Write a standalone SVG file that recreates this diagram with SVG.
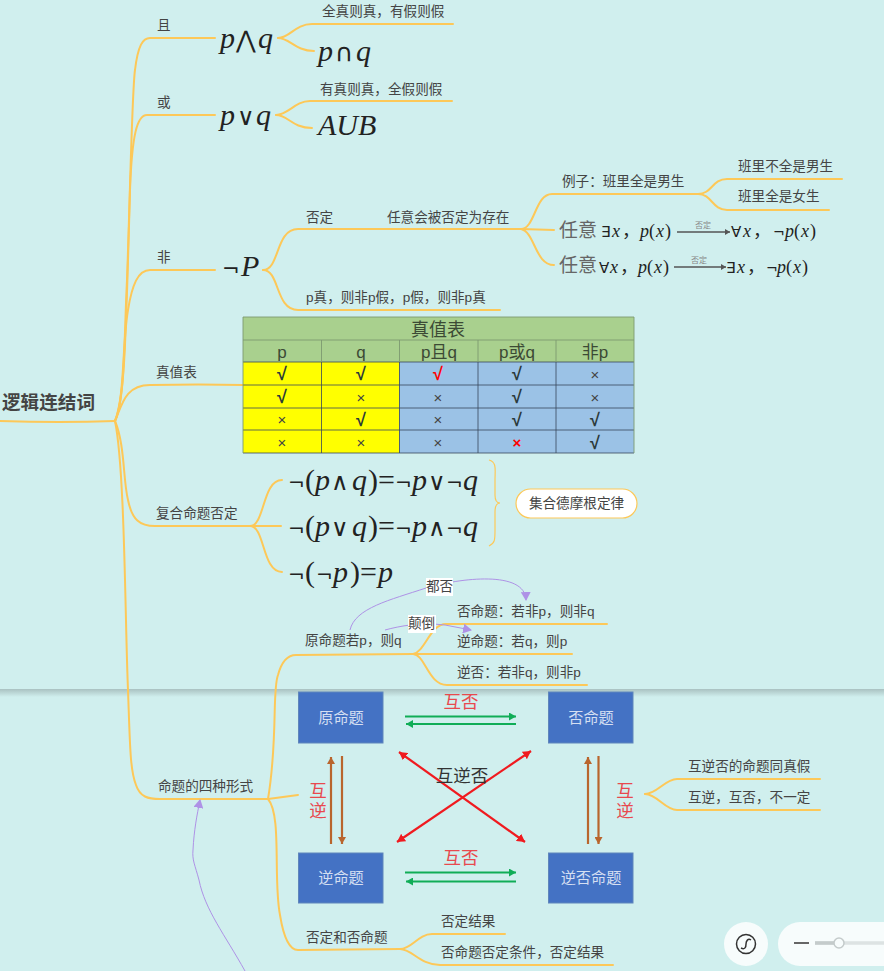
<svg xmlns="http://www.w3.org/2000/svg" width="884" height="971" viewBox="0 0 884 971">
<style>
text{font-family:"Liberation Sans","Noto Sans CJK SC",sans-serif;fill:#444}
.t{font-size:13.600px}
.r{font-weight:bold;font-size:18.600px}
.m{font-family:"Liberation Serif","DejaVu Serif","Noto Sans CJK SC",serif;fill:#222;font-style:italic}
.u{font-style:normal}
.o{font-style:normal;font-family:"DejaVu Sans",sans-serif}
.b{fill:none;stroke:#fdc858;stroke-width:2;stroke-linecap:round}
.g{fill:none;stroke:#fdc858;stroke-width:1.2}
.p{fill:none;stroke:#ae92e6;stroke-width:1}
.box{fill:#4472c4;stroke:#5f86bb;stroke-width:1}
.bt{font-size:15.200px;fill:#d5dff2;text-anchor:middle}
.red{font-size:17.500px;fill:#e8494e;text-anchor:middle}
.h{font-size:17px;text-anchor:middle;fill:#3c4a35}
.ck{font-size:18px;font-weight:bold;text-anchor:middle;fill:#2c3a3a}
.x{font-size:15px;text-anchor:middle;fill:#444}
.gr{stroke:#10ad57;stroke-width:2.2;fill:none}
.br{stroke:#b9652d;stroke-width:2.2;fill:none}
.rd{stroke:#f01a1f;stroke-width:2.2;fill:none}
.cell{stroke:#37465a;stroke-width:.8}
</style>
<defs>
<marker id="ag" markerUnits="userSpaceOnUse" markerWidth="8" markerHeight="8" refX="7" refY="4" orient="auto-start-reverse"><path d="M0 0L7 4L0 8Z" fill="#10ad57"/></marker>
<marker id="ab" markerUnits="userSpaceOnUse" markerWidth="8" markerHeight="8" refX="7" refY="4" orient="auto-start-reverse"><path d="M0 0L7 4L0 8Z" fill="#b9652d"/></marker>
<marker id="ar" markerUnits="userSpaceOnUse" markerWidth="9" markerHeight="9" refX="8" refY="4.500" orient="auto-start-reverse"><path d="M0 0L8 4.500L0 9Z" fill="#f01a1f"/></marker>
<marker id="ap" markerUnits="userSpaceOnUse" markerWidth="10" markerHeight="10" refX="8" refY="5" orient="auto"><path d="M0 0L9 5L0 10Z" fill="#ae92e6"/></marker>
<marker id="ak" markerUnits="userSpaceOnUse" markerWidth="6" markerHeight="6" refX="5" refY="3" orient="auto"><path d="M0 0L5 3L0 6Z" fill="#555"/></marker>
<linearGradient id="sh" x1="0" y1="0" x2="0" y2="1"><stop offset="0" stop-color="#8a9c9c" stop-opacity=".55"/><stop offset="1" stop-color="#8a9c9c" stop-opacity="0"/></linearGradient>
</defs>
<rect width="884" height="971" fill="#d0efee"/>
<rect x="0" y="689" width="884" height="8" fill="url(#sh)"/>
<g id="connectors">
<path class="b" d="M0 421Q60 423 115 421"/>
<path class="b" d="M115 421C125 400 124 340 127 280C130 200 132 90 135 70C138 45 143 38 150 38L215 38"/>
<path class="b" d="M115 421C125 400 126 330 130 190C132 135 137 115 147 115L215 115"/>
<path class="b" d="M115 421C125 395 122 345 128 310C132 285 138 270 150 270L215 270"/>
<path class="b" d="M115 421C122 405 125 385 150 385Q200 384 243 385"/>
<path class="b" d="M115 421C125 445 123 480 128 500C132 520 140 526 155 526L250 526"/>
<path class="b" d="M115 421C125 470 125 620 128 690C130 745 130 770 136 785C140 797 148 799 160 799L268 799"/>
<path class="b" d="M278 38C290 38 295 24 312 24L453 24"/>
<path class="b" d="M278 38C290 38 295 51 314 51"/>
<path class="b" d="M276 115C288 115 295 101 310 101L452 101"/>
<path class="b" d="M276 115C288 115 292 128 312 128"/>
<path class="b" d="M263 270C280 270 275 229 298 229L521 229"/>
<path class="b" d="M263 270C280 270 275 310 298 310L500 310"/>
<path class="b" d="M521 229C535 229 535 194 552 194L698 194"/>
<path class="b" d="M521 229L554 230"/>
<path class="b" d="M521 229C535 232 535 265 554 265"/>
<path class="b" d="M698 194C712 194 712 179 727 179L842 179"/>
<path class="b" d="M698 194C712 194 712 210 727 210L829 210"/>
<path class="b" d="M250 526C265 526 262 480 282 480"/>
<path class="b" d="M250 526L281 526"/>
<path class="b" d="M250 526C265 526 262 572 282 572"/>
<path class="g" d="M489 460C497 462 495 470 495 480L495 495C495 500 497 503 500 503C497 503 495 506 495 512L495 530C495 540 495 543 489 546"/>
<path class="b" d="M268 799C278 740 272 690 278 675C282 660 288 655 296 655L413 654"/>
<path class="b" d="M413 654C425 652 430 624 446 624L607 624"/>
<path class="b" d="M413 654L572 654"/>
<path class="b" d="M413 654C425 654 428 685 447 685L587 685"/>
<path class="b" d="M268 799L298 795"/>
<path class="b" d="M268 799C282 815 273 880 280 915C284 940 290 950 298 950L400 949"/>
<path class="b" d="M400 949C412 949 418 934 432 934L505 934"/>
<path class="b" d="M400 949C412 949 420 965 440 965L613 965"/>
<path class="b" d="M645 794C657 794 665 779 677 779L820 779"/>
<path class="b" d="M645 794C657 794 665 810 677 810L820 810"/>
<path class="p" marker-end="url(#ap)" d="M350 630C355 608 390 600 426 588C460 578 525 570 526 600"/>
<path class="p" marker-end="url(#ap)" d="M385 630C400 626 420 622 445 625L471 630"/>
<path class="p" marker-end="url(#ap)" d="M245 971C225 935 205 910 199 880C195 865 192 860 193 850C194 830 197 815 200 800"/>
</g>
<g id="root"><text class="r" x="2" y="409">逻辑连结词</text></g>
<g id="and"><text class="t" x="157" y="30">且</text>
<text class="m" font-size="30" y="48"><tspan x="220">p</tspan><tspan x="236" class="o" font-size="24">⋀</tspan><tspan x="258">q</tspan></text>
<text class="t" x="322" y="16">全真则真，有假则假</text>
<text class="m" font-size="30" y="61"><tspan x="318">p</tspan><tspan x="335" class="o" font-size="25">∩</tspan><tspan x="356">q</tspan></text></g>
<g id="or"><text class="t" x="157" y="107">或</text>
<text class="m" font-size="30" y="125"><tspan x="220">p</tspan><tspan x="237" class="o" font-size="24">∨</tspan><tspan x="256">q</tspan></text>
<text class="t" x="320" y="94">有真则真，全假则假</text>
<text class="m" font-size="30" x="318" y="135">AUB</text></g>
<g id="not"><text class="t" x="157" y="262">非</text>
<text class="m" font-size="28" y="276"><tspan x="222" class="o" font-size="21">¬</tspan><tspan x="241" font-size="30">P</tspan></text>
<text class="t" x="306" y="222">否定</text><text class="t" x="387" y="222">任意会被否定为存在</text>
<text class="t" x="306" y="302">p真，则非p假，p假，则非p真</text>
<text class="t" x="562" y="186">例子：班里全是男生</text>
<text class="t" x="738" y="171">班里不全是男生</text>
<text class="t" x="738" y="201">班里全是女生</text>
<text x="559" y="237" font-size="19" style="fill:#666">任意</text>
<text class="m" font-size="18" y="237"><tspan x="601" class="o" font-size="15">∃</tspan><tspan x="612">x</tspan><tspan x="622" class="u">，</tspan><tspan x="640">p</tspan><tspan x="649" class="u">(</tspan><tspan x="656">x</tspan><tspan x="665" class="u">)</tspan><tspan x="731" class="o" font-size="15">∀</tspan><tspan x="743">x</tspan><tspan x="753" class="u">，</tspan><tspan x="773" class="o" font-size="14">¬</tspan><tspan x="785">p</tspan><tspan x="794" class="u">(</tspan><tspan x="801">x</tspan><tspan x="810" class="u">)</tspan></text>
<path d="M677 232L730 232" stroke="#555" stroke-width="1.300" marker-end="url(#ak)"/>
<text x="703" y="228" font-size="8" text-anchor="middle" style="fill:#888">否定</text>
<text x="559" y="272" font-size="19" style="fill:#666">任意</text>
<text class="m" font-size="18" y="273"><tspan x="599" class="o" font-size="15">∀</tspan><tspan x="610">x</tspan><tspan x="620" class="u">，</tspan><tspan x="638">p</tspan><tspan x="647" class="u">(</tspan><tspan x="654">x</tspan><tspan x="663" class="u">)</tspan><tspan x="726" class="o" font-size="15">∃</tspan><tspan x="737">x</tspan><tspan x="747" class="u">，</tspan><tspan x="766" class="o" font-size="14">¬</tspan><tspan x="777">p</tspan><tspan x="786" class="u">(</tspan><tspan x="793">x</tspan><tspan x="802" class="u">)</tspan></text>
<path d="M674 267L726 267" stroke="#555" stroke-width="1.300" marker-end="url(#ak)"/>
<text x="699" y="263" font-size="8" text-anchor="middle" style="fill:#888">否定</text></g>
<g id="truth-table"><text class="t" x="156" y="377">真值表</text>
<rect x="243" y="317" width="391" height="45" fill="#a9d08e"/>
<rect x="243" y="362" width="156" height="91" fill="#ffff00"/>
<rect x="399" y="362" width="235" height="91" fill="#9bc2e6"/>
<path class="cell" fill="none" d="M243 362H634M243 385H634M243 408H634M243 430H634M243 453H634M321.500 362V453M399.500 362V453M478 362V453M556 362V453"/>
<path fill="none" stroke="#7d9a70" stroke-width=".9" d="M243 340H634M321.500 340V362M399.500 340V362M478 340V362M556 340V362M243 317H634M243 317V453M634 317V453"/>
<text class="h" x="438" y="336" style="font-size:18px">真值表</text>
<text class="h" x="282" y="358">p</text><text class="h" x="361" y="358">q</text><text class="h" x="439" y="358">p且q</text><text class="h" x="517" y="358">p或q</text><text class="h" x="595" y="358">非p</text>
<text class="ck" x="282" y="380">√</text><text class="ck" x="361" y="380">√</text><text class="ck" x="438" y="380" style="fill:#f00">√</text><text class="ck" x="517" y="380">√</text><text class="x" x="595" y="380">×</text>
<text class="ck" x="282" y="403">√</text><text class="x" x="361" y="403">×</text><text class="x" x="438" y="403">×</text><text class="ck" x="517" y="403">√</text><text class="x" x="595" y="403">×</text>
<text class="x" x="282" y="425">×</text><text class="ck" x="361" y="426">√</text><text class="x" x="438" y="425">×</text><text class="ck" x="517" y="426">√</text><text class="ck" x="595" y="426">√</text>
<text class="x" x="282" y="448">×</text><text class="x" x="361" y="448">×</text><text class="x" x="438" y="448">×</text><text class="x" x="517" y="448" style="fill:#f00;font-weight:bold">×</text><text class="ck" x="595" y="449">√</text></g>
<g id="compound"><text class="t" x="156" y="518">复合命题否定</text>
<text class="m" font-size="30" y="490"><tspan x="288" class="o" font-size="20">¬</tspan><tspan x="305" class="u">(</tspan><tspan x="315">p</tspan><tspan x="331" class="o" font-size="24">∧</tspan><tspan x="352">q</tspan><tspan x="368" class="u">)</tspan><tspan x="378" class="u">=</tspan><tspan x="395" class="o" font-size="20">¬</tspan><tspan x="412">p</tspan><tspan x="428" class="o" font-size="24">∨</tspan><tspan x="446" class="o" font-size="20">¬</tspan><tspan x="463">q</tspan></text>
<text class="m" font-size="30" y="536"><tspan x="288" class="o" font-size="20">¬</tspan><tspan x="305" class="u">(</tspan><tspan x="315">p</tspan><tspan x="331" class="o" font-size="24">∨</tspan><tspan x="352">q</tspan><tspan x="368" class="u">)</tspan><tspan x="378" class="u">=</tspan><tspan x="395" class="o" font-size="20">¬</tspan><tspan x="412">p</tspan><tspan x="428" class="o" font-size="24">∧</tspan><tspan x="446" class="o" font-size="20">¬</tspan><tspan x="463">q</tspan></text>
<text class="m" font-size="30" y="582"><tspan x="288" class="o" font-size="20">¬</tspan><tspan x="305" class="u">(</tspan><tspan x="316" class="o" font-size="20">¬</tspan><tspan x="333">p</tspan><tspan x="350" class="u">)</tspan><tspan x="360" class="u">=</tspan><tspan x="378">p</tspan></text></g>
<g id="de-morgan"><rect x="516" y="489" width="121" height="29" rx="14.500" fill="#fff" stroke="#fdc858" stroke-width="1.200"/><text class="t" x="576.500" y="508" text-anchor="middle">集合德摩根定律</text></g>
<g id="four-forms"><text class="t" x="158" y="791">命题的四种形式</text>
<text class="t" x="305" y="645">原命题若p，则q</text>
<text class="t" x="457" y="616">否命题：若非p，则非q</text>
<text class="t" x="457" y="646">逆命题：若q，则p</text>
<text class="t" x="457" y="677">逆否：若非q，则非p</text>
<rect x="426" y="578" width="27" height="18" fill="#fff"/><text class="t" x="426" y="591">都否</text>
<rect x="408" y="615" width="28" height="18" fill="#fff"/><text class="t" x="408" y="628">颠倒</text>
<text class="t" x="306" y="942">否定和否命题</text>
<text class="t" x="441" y="926">否定结果</text>
<text class="t" x="441" y="957">否命题否定条件，否定结果</text>
<text class="t" x="688" y="771">互逆否的命题同真假</text>
<text class="t" x="688" y="802">互逆，互否，不一定</text></g>
<g id="node-original"><rect class="box" x="298.500" y="692" width="84.500" height="51"/><text class="bt" x="341" y="723">原命题</text></g>
<g id="node-negation"><rect class="box" x="548.500" y="692" width="84.500" height="51"/><text class="bt" x="591" y="723">否命题</text></g>
<g id="node-converse"><rect class="box" x="298.500" y="853" width="84.500" height="50"/><text class="bt" x="341" y="883">逆命题</text></g>
<g id="node-contrapositive"><rect class="box" x="548.500" y="853" width="84.500" height="50"/><text class="bt" x="591" y="883">逆否命题</text></g>
<g id="square-arrows">
<path class="gr" marker-end="url(#ag)" d="M405 716.500H516"/>
<path class="gr" marker-end="url(#ag)" d="M516 724H406"/>
<path class="gr" marker-end="url(#ag)" d="M405 872.500H516"/>
<path class="gr" marker-end="url(#ag)" d="M516 881.500H406"/>
<path class="br" marker-end="url(#ab)" d="M331 844V757"/>
<path class="br" marker-end="url(#ab)" d="M342 756V844"/>
<path class="br" marker-end="url(#ab)" d="M588 844V757"/>
<path class="br" marker-end="url(#ab)" d="M598.500 756V844"/>
<path class="rd" marker-start="url(#ar)" marker-end="url(#ar)" d="M525 842L399 752"/>
<path class="rd" marker-start="url(#ar)" marker-end="url(#ar)" d="M397 842L531 751"/>
<text class="red" x="461" y="708">互否</text>
<text class="red" x="461" y="864">互否</text>
<text class="red" x="318" y="797">互</text><text class="red" x="318" y="817">逆</text>
<text class="red" x="625" y="797">互</text><text class="red" x="625" y="817">逆</text>
<text x="462" y="782" font-size="17.500" text-anchor="middle" style="fill:#333">互逆否</text></g>
<g id="controls">
<circle cx="746" cy="944" r="22" fill="#f7fcfc"/>
<circle cx="746" cy="944" r="9.500" fill="none" stroke="#333" stroke-width="1.500"/>
<path d="M741 948C745 950 746 947 746 944C746 941 748 938 751 940" fill="none" stroke="#333" stroke-width="1.500"/>
<rect x="778" y="922" width="130" height="44" rx="22" fill="#f7fcfc"/>
<path d="M794 943H809" stroke="#666" stroke-width="2"/>
<path d="M815 943H884" stroke="#dde3e3" stroke-width="3.500"/>
<path d="M815 943H839" stroke="#c4cbcb" stroke-width="3.500"/>
<circle cx="839" cy="943" r="5" fill="#f7fcfc" stroke="#c4cbcb" stroke-width="1.500"/>
</g>
</svg>
